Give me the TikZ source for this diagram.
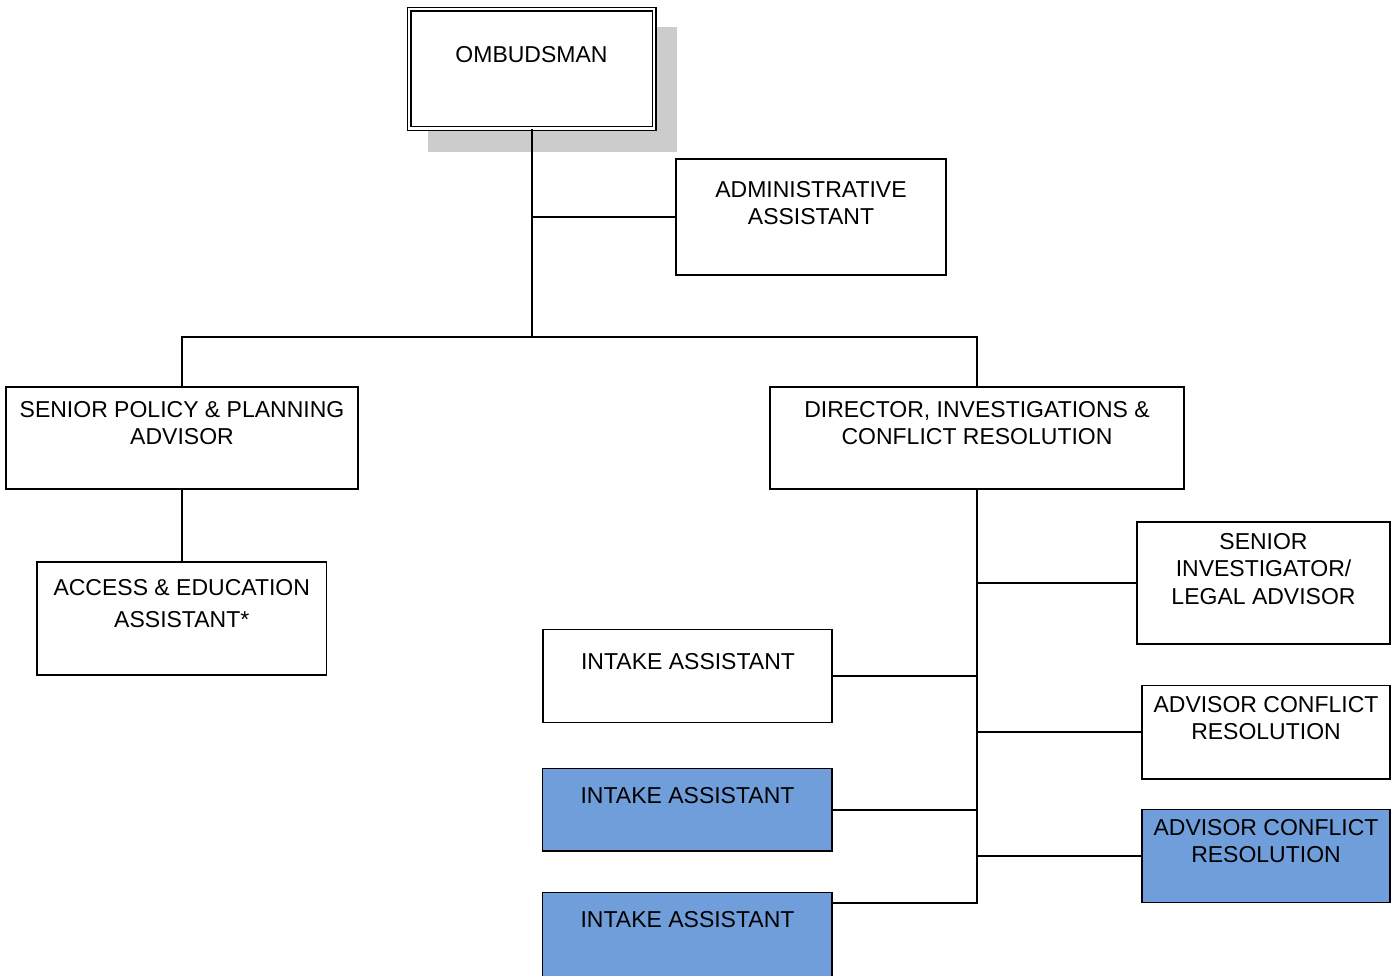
\documentclass[tikz,border=0pt]{standalone}
\usepackage{fontspec}
\setmainfont{Liberation Sans}
\definecolor{boxblue}{RGB}{112,158,218}
\definecolor{shadowgray}{RGB}{204,204,204}
\begin{document}
\begin{tikzpicture}[x=1pt,y=-1pt,
  box/.style={draw=black,line width=1.4pt,fill=white,inner sep=0pt},
  bluebox/.style={box,fill=boxblue},
  lbl/.style={anchor=north,inner sep=0pt,align=center,font=\fontsize{23}{27.5}\selectfont},
  conn/.style={draw=black,line width=1.6pt}]
\useasboundingbox (0,0) rectangle (1395,975);
% shadow and top box
\fill[shadowgray] (427.7,26.7) rectangle (676.7,151.7);
\node[box,double=white,double distance=2.4pt,line width=1.2pt,minimum width=245pt,minimum height=119.3pt] (omb) at (531.7,68.85) {};
\node[box,minimum width=270pt,minimum height=116pt] (adm) at (811,217) {};
\node[box,minimum width=352pt,minimum height=102pt] (spp) at (182,438) {};
\node[box,minimum width=414pt,minimum height=102pt] (dir) at (977,438) {};
\node[box,minimum width=289.5pt,minimum height=113pt] (acc) at (181.75,618.5) {};
\node[box,minimum width=253pt,minimum height=122pt] (sinv) at (1263.5,583) {};
\node[box,minimum width=289pt,minimum height=93pt] (int1) at (687.5,676) {};
\node[box,minimum width=248pt,minimum height=93.5pt] (acr1) at (1266,732.25) {};
\node[bluebox,minimum width=289.5pt,minimum height=82.5pt] (int2) at (687.25,809.75) {};
\node[bluebox,minimum width=248pt,minimum height=93pt] (acr2) at (1266,856) {};
\node[bluebox,minimum width=289.5pt,minimum height=90pt] (int3) at (687.25,937.5) {};
% labels
\node[lbl] (tomb) at (531.5,46.5) {OMBUDSMAN};
\node[lbl] (tadm) at (811,181) {ADMINISTRATIVE\\ASSISTANT};
\node[lbl] (tspp) at (182,401) {SENIOR POLICY \& PLANNING\\ADVISOR};
\node[lbl] (tdir) at (977,401) {DIRECTOR, INVESTIGATIONS \&\\CONFLICT RESOLUTION};
\node[lbl] (tacc) at (181.75,579) {ACCESS \& EDUCATION\\[4.5pt]ASSISTANT*};
\node[lbl] (tsinv) at (1263.5,533) {SENIOR\\INVESTIGATOR/\\LEGAL ADVISOR};
\node[lbl] (tint1) at (688,653) {INTAKE ASSISTANT};
\node[lbl] (tacr1) at (1266,696) {ADVISOR CONFLICT\\RESOLUTION};
\node[lbl] (tint2) at (687.5,787) {INTAKE ASSISTANT};
\node[lbl] (tacr2) at (1266,819) {ADVISOR CONFLICT\\RESOLUTION};
\node[lbl] (tint3) at (687.5,911) {INTAKE ASSISTANT};
% connectors
\coordinate (j1) at (531.7,337);
\coordinate (jend) at (977,903);
\draw[conn] (omb.south) -- (j1);
\draw[conn] (omb.south |- adm.west) -- (adm.west);
\draw[conn] (spp.north) |- (j1) -| (dir.north);
\draw[conn] (spp.south) -- (spp.south |- acc.north);
\draw[conn] (dir.south) -- (jend) -- (jend -| int3.east);
\draw[conn] (dir.south |- sinv.west) -- (sinv.west);
\draw[conn] (dir.south |- int1.east) -- (int1.east);
\draw[conn] (dir.south |- acr1.west) -- (acr1.west);
\draw[conn] (dir.south |- int2.east) -- (int2.east);
\draw[conn] (dir.south |- acr2.west) -- (acr2.west);
\end{tikzpicture}
\end{document}
